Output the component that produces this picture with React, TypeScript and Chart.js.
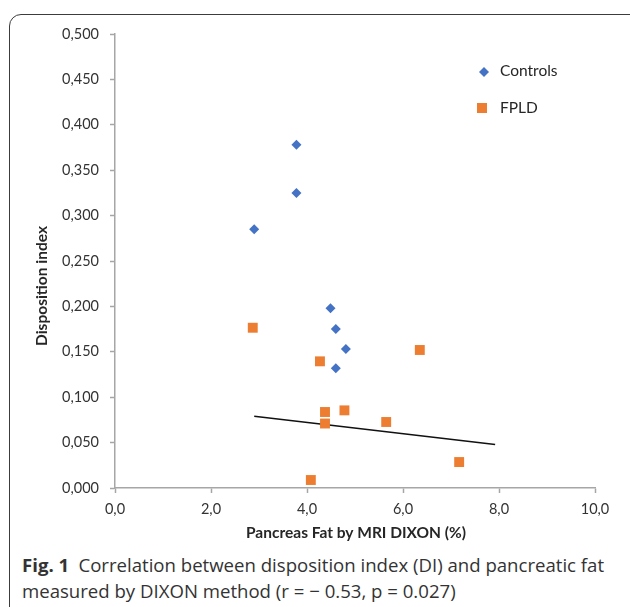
import React, { useEffect, useRef } from "react";
import { Chart, registerables } from "chart.js";

Chart.register(...registerables);

const seriesNames = ["Controls", "FPLD"];
const controlsX = [3.78, 3.78, 2.9, 4.49, 4.6, 4.81, 4.6];
const controlsY = [0.378, 0.325, 0.285, 0.198, 0.175, 0.153, 0.132];
const fpldX = [2.87, 4.27, 6.35, 4.375, 4.375, 4.78, 5.65, 4.08, 7.17];
const fpldY = [0.1765, 0.1395, 0.152, 0.0837, 0.071, 0.0855, 0.0727, 0.0088, 0.0286];
const trendX = [2.9, 7.92];
const trendY = [0.079, 0.048];
const xTicks = [0, 2, 4, 6, 8, 10];
const yTicks = [0, 0.05, 0.1, 0.15, 0.2, 0.25, 0.3, 0.35, 0.4, 0.45, 0.5];
const xTitle = "Pancreas Fat by MRI DIXON (%)";
const yTitle = "Disposition index";
const captionBold = "Fig. 1";
const captionText =
  "Correlation between disposition index (DI) and pancreatic fat measured by DIXON method (r = \u2212 0.53, p = 0.027)";

const BLUE = "#4472C4";
const ORANGE = "#ED7D31";
const FONT = "Lato, 'Open Sans', sans-serif";
const CAPTION_FONT = "'Open Sans', sans-serif";

const pts = (xs: number[], ys: number[]) => xs.map((x, i) => ({ x, y: ys[i] }));

const overlayPlugin = {
  id: "overlay",
  afterDraw(chart: any) {
    const { ctx, chartArea } = chart;
    ctx.save();
    // axis titles
    ctx.fillStyle = "#262626";
    ctx.font = `bold 15.5px ${FONT}`;
    ctx.textAlign = "center";
    ctx.textBaseline = "middle";
    ctx.fillText(xTitle, (chartArea.left + chartArea.right) / 2 + 1, chartArea.bottom + 45);
    ctx.save();
    ctx.translate(chartArea.left - 73, (chartArea.top + chartArea.bottom) / 2 + 25);
    ctx.rotate(-Math.PI / 2);
    ctx.fillText(yTitle, 0, 0);
    ctx.restore();

    // legend
    const lx = chartArea.left + 369;
    const ly = chartArea.top + 38;
    ctx.font = `15.5px ${FONT}`;
    ctx.textAlign = "left";
    ctx.fillStyle = BLUE;
    ctx.beginPath();
    ctx.moveTo(lx - 5, ly);
    ctx.lineTo(lx, ly - 5);
    ctx.lineTo(lx + 5, ly);
    ctx.lineTo(lx, ly + 5);
    ctx.closePath();
    ctx.fill();
    ctx.fillStyle = "#262626";
    ctx.fillText(seriesNames[0], lx + 16, ly - 1);
    ctx.fillStyle = ORANGE;
    ctx.fillRect(lx - 7, ly + 31, 10, 10);
    ctx.fillStyle = "#262626";
    ctx.fillText(seriesNames[1], lx + 16, ly + 36);
    ctx.restore();
  },
};

export default function App() {
  const ref = useRef<HTMLCanvasElement | null>(null);

  useEffect(() => {
    if (!ref.current) return;
    const tickColor = "#333333";
    const axisColor = "#a6a6a6";
    const chart = new Chart(ref.current, {
      type: "scatter",
      data: {
        datasets: [
          {
            label: seriesNames[0],
            data: pts(controlsX, controlsY),
            pointStyle: "rectRot",
            pointRadius: 5,
            backgroundColor: BLUE,
            borderColor: BLUE,
            borderWidth: 0,
          },
          {
            label: seriesNames[1],
            data: pts(fpldX, fpldY),
            pointStyle: "rect",
            pointRadius: 7,
            backgroundColor: ORANGE,
            borderColor: ORANGE,
            borderWidth: 0,
          },
          {
            label: "Trend",
            data: pts(trendX, trendY),
            showLine: true,
            pointRadius: 0,
            borderColor: "#111111",
            borderWidth: 1.5,
            backgroundColor: "#111111",
          } as any,
        ],
      },
      options: {
        responsive: false,
        animation: false,
        events: [],
        layout: { padding: { top: 34, right: 35, bottom: 0, left: 0 } },
        plugins: {
          legend: { display: false },
          tooltip: { enabled: false },
        },
        scales: {
          x: {
            type: "linear",
            min: 0,
            max: 10,
            afterFit: (s: any) => {
              s.height = 62;
            },
            afterBuildTicks: (s: any) => {
              s.ticks = xTicks.map((v) => ({ value: v }));
            },
            grid: {
              display: true,
              drawOnChartArea: false,
              drawTicks: true,
              tickLength: 5,
              tickColor: axisColor,
              tickWidth: 1.5,
            },
            border: { display: true, color: axisColor, width: 1.5 },
            ticks: {
              padding: 8,
              color: tickColor,
              font: { family: FONT, size: 14.5 },
              maxRotation: 0,
              callback: (v: any) => Number(v).toFixed(1).replace(".", ","),
            },
          },
          y: {
            type: "linear",
            min: 0,
            max: 0.5,
            afterFit: (s: any) => {
              s.width = 115;
            },
            afterBuildTicks: (s: any) => {
              s.ticks = yTicks.map((v) => ({ value: v }));
            },
            grid: {
              display: true,
              drawOnChartArea: false,
              drawTicks: true,
              tickLength: 5,
              tickColor: axisColor,
              tickWidth: 1.5,
            },
            border: { display: true, color: axisColor, width: 1.5 },
            ticks: {
              padding: 11,
              color: tickColor,
              font: { family: FONT, size: 14.5 },
              callback: (v: any) => Number(v).toFixed(3).replace(".", ","),
            },
          },
        },
      },
      plugins: [overlayPlugin],
    });
    return () => chart.destroy();
  }, []);

  return (
    <div
      style={{
        position: "fixed",
        left: 0,
        top: 0,
        width: 630,
        height: 607,
        overflow: "hidden",
        background: "#fff",
      }}
    >
      <div
        style={{
          position: "absolute",
          left: 9,
          top: 14,
          width: 640,
          height: 640,
          border: "1.5px solid #3c3c3c",
          borderRadius: 12,
          boxSizing: "border-box",
        }}
      />
      <canvas
        ref={ref}
        width={630}
        height={550}
        style={{ position: "absolute", left: 0, top: 0, width: 630, height: 550 }}
      />
      <div
        style={{
          position: "absolute",
          left: 22,
          top: 552,
          width: 605,
          fontFamily: CAPTION_FONT,
          fontSize: 18.6,
          lineHeight: "26px",
          color: "#333333",
          whiteSpace: "nowrap",
        }}
      >
        <b>{captionBold}</b>
        {"\u2002"}
        {"Correlation between disposition index (DI) and pancreatic fat"}
        <br />
        {"measured by DIXON method (r = \u2212 0.53, p = 0.027)"}
      </div>
    </div>
  );
}
